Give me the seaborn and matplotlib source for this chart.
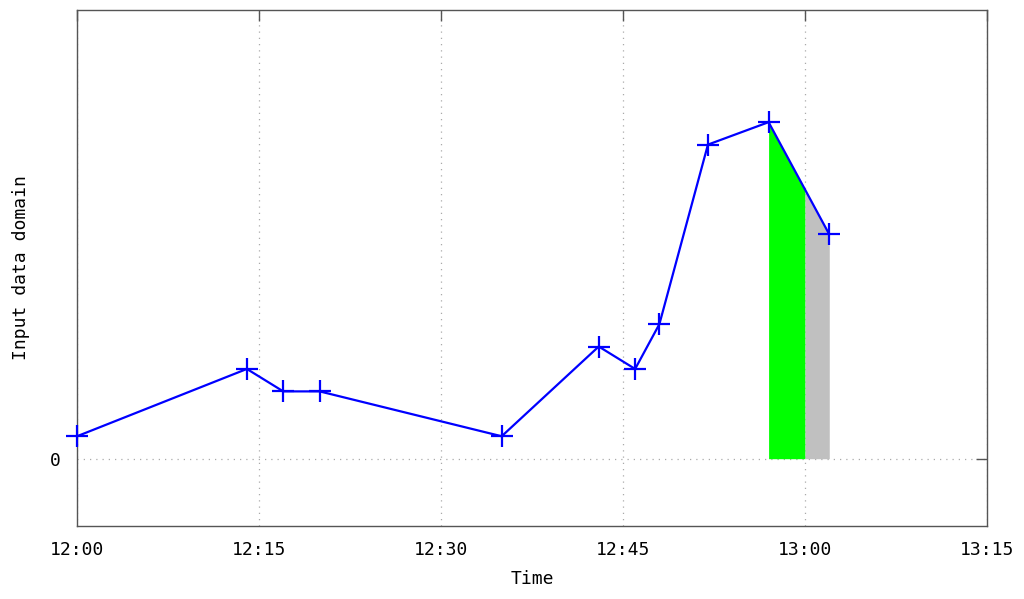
import numpy as np
import pandas as pd
import matplotlib
matplotlib.use('Agg')
import matplotlib.pyplot as plt
import seaborn as sns

times = ['12:00', '12:14', '12:17', '12:20', '12:35', '12:43',
         '12:46', '12:48', '12:52', '12:57', '13:02']
values = [0.5, 2.0, 1.5, 1.5, 0.5, 2.5, 2.0, 3.0, 7.0, 7.5, 5.0]
green_span = ['12:57', '13:00']
gray_span = ['13:00', '13:02']
tick_labels = ['12:00', '12:15', '12:30', '12:45', '13:00', '13:15']


def to_min(t):
    h, m = t.split(':')
    return (int(h) - 12) * 60 + int(m)


df = pd.DataFrame({'t': [to_min(t) for t in times], 'v': values})

sns.set_style('white')
plt.rcParams['font.family'] = ['DejaVu Sans Mono', 'DejaVu Sans']
plt.rcParams['text.color'] = 'black'
plt.rcParams['axes.labelcolor'] = 'black'
plt.rcParams['xtick.labelcolor'] = 'black'
plt.rcParams['ytick.labelcolor'] = 'black'

fig = plt.figure(figsize=(10.24, 5.99), dpi=100)
ax = fig.add_axes([77 / 1024, 73 / 599, 910 / 1024, 516 / 599])


def fill_span(span, color):
    a, b = to_min(span[0]), to_min(span[1])
    xs = np.linspace(a, b, 50)
    ys = np.interp(xs, df['t'], df['v'])
    ax.fill_between(xs, 0, ys, color=color, linewidth=0, zorder=2)


fill_span(green_span, '#00ff00')
fill_span(gray_span, '#c0c0c0')

sns.lineplot(data=df, x='t', y='v', ax=ax, color='#0000ff', linewidth=1.6,
             marker='+', markersize=16, markeredgewidth=1.6,
             markeredgecolor='#0000ff', zorder=3, clip_on=False)

ticks = [to_min(t) for t in tick_labels]
ax.set_xlim(ticks[0], ticks[-1])
ax.set_ylim(-1.5, 10)
ax.set_xticks(ticks)
ax.set_xticklabels(tick_labels)
ax.set_yticks([0])
ax.set_yticklabels(['0'])
ax.grid(True, color='#aaaaaa', linestyle=(0, (1, 4)), linewidth=0.9)
ax.tick_params(direction='in', length=8, width=1, color='#555555',
               top=True, right=True, labelsize=13)
ax.tick_params(axis='x', pad=11)
ax.tick_params(axis='y', pad=12)
for s in ax.spines.values():
    s.set_color('#555555')
    s.set_linewidth(1)
ax.set_xlabel('Time', fontsize=13, labelpad=8)
ax.set_ylabel('Input data domain', fontsize=13, labelpad=14)

fig.savefig('out.png', dpi=100)
